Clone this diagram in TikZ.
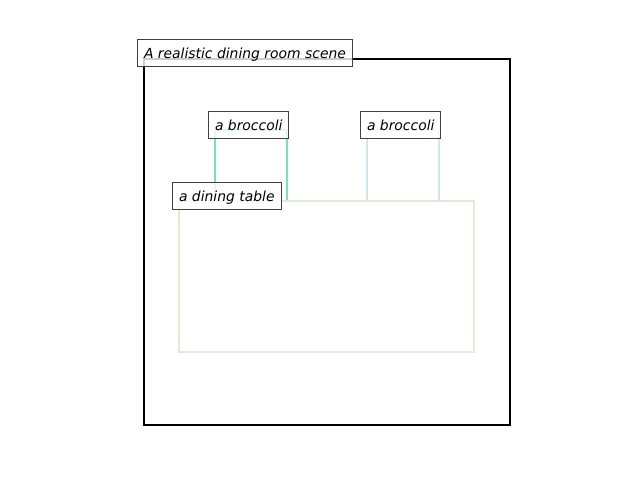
\documentclass[tikz,border=0pt]{standalone}
\usepackage{fontspec}
\setmainfont{DejaVu Sans}
\usepackage{tikz}
\usetikzlibrary{positioning,calc}
\usepackage{xcolor}
\definecolor{brocA}{RGB}{122,224,196}
\definecolor{brocB}{RGB}{206,230,238}
\definecolor{tablecol}{RGB}{224,237,210}
\definecolor{labeledge}{RGB}{64,64,64}

\begin{document}
\begin{tikzpicture}[x=1pt, y=-1pt, every node/.style={font=\fontsize{13.9}{16}\selectfont\itshape}]
\tikzset{tag/.style={draw=labeledge, line width=1pt, fill=white, fill opacity=0.8, text opacity=1, anchor=south west, inner xsep=6.5pt, minimum height=27pt, text depth=0pt}}
\tikzset{obj/.style={line width=2.6pt}}
\useasboundingbox (0,0) rectangle (640,480);
% scene frame and objects
\coordinate (sc) at (144,59);
\coordinate (b1) at (215,130);
\coordinate (b2) at (367,130);
\coordinate (tb) at (179,201);
\draw[obj, black, line width=2.2pt] (sc) rectangle (510,425);
\draw[obj, brocA] (b1) rectangle (287,201);
\draw[obj, brocB] (b2) rectangle (439,201);
\draw[obj, tablecol] (tb) rectangle (474,352);
% labels
\node[tag] (scene) at ($(sc)+(-7,8)$) {A realistic dining room scene};
\node[tag] (broc1) at ($(b1)+(-7,9)$) {a broccoli};
\node[tag] (broc2) at ($(b2)+(-7,9)$) {a broccoli};
\node[tag] (table) at ($(tb)+(-7,9)$) {a dining table};
\end{tikzpicture}
\end{document}
